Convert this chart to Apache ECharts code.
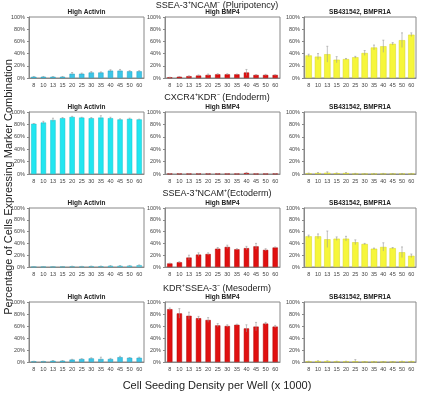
<!DOCTYPE html>
<html><head><meta charset="utf-8">
<script src="https://cdn.jsdelivr.net/npm/echarts@6/dist/echarts.min.js"></script>
<style>html,body{margin:0;padding:0;background:#fff}#c{width:421px;height:395px}</style>
</head><body><div id="c"></div>
<script>
const categories = ['8','10','13','15','20','25','30','35','40','45','50','60'];
const rowTitles = ['SSEA-3\u207ANCAM\u207B (Pluripotency)','CXCR4\u207AKDR\u207B (Endoderm)','SSEA-3\u207ANCAM\u207A(Ectoderm)','KDR\u207ASSEA-3\u207B (Mesoderm)'];
const panelTitles = ['High Activin','High BMP4','SB431542, BMPR1A'];
const yTickValues = [0,20,40,60,80,100];

const pluriActivin = [2,2,2,2,7,7,9,9,12,12,11,11];
const pluriActivinErr = [0.5,0.5,0.3,0.5,2,1,1.5,1,1.5,2,1,1];
const pluriBMP4 = [1,2,3,4,5,6,6,6,9,5,5,5];
const pluriBMP4Err = [0.3,0.5,0.5,1,1.5,1,1,0.5,5,0.5,1,0.5];
const pluriSB = [37,35,39,30,31,34,41,50,52,56,62,71];
const pluriSBErr = [2,5,13,5,1,1.5,4,4,10,2,12,3];

const endoActivin = [81,83,87,90,92,91,90,91,90,88,89,88];
const endoActivinErr = [0.5,2,3,1,1,0.5,1,3,1.5,1,1,0.5];
const endoBMP4 = [0.5,0.5,0.3,0.5,0.5,0.5,0.3,0.3,1.5,0.3,0.3,0.5];
const endoBMP4Err = [0.3,0.3,0.2,0.3,0.3,0.3,0.2,0.2,1,0.2,0.2,0.2];
const endoSB = [1,1.5,2,1.2,1.5,0.5,0.3,0.3,0.6,0.5,0.5,0.6];
const endoSBErr = [0.5,0.8,1.5,0.5,0.8,0.5,0.2,0.2,0.3,0.3,0.3,0.3];

const ectoActivin = [0.2,0.3,0.3,0.5,1,0.8,1.3,1.3,2,2,2.2,3];
const ectoActivinErr = [0.1,0.1,0.1,0.2,0.3,0.3,0.3,0.3,0.4,0.4,0.4,0.5];
const ectoBMP4 = [6,8,16,21,22,31,34,30,32,35,29,33];
const ectoBMP4Err = [0.5,1,4,3,2,2,3,1,3,5,2,1];
const ectoSB = [52,52,47,48,48,42,39,31,34,32,25,19];
const ectoSBErr = [2,4,14,3,4,4,1,1,7,1,9,3];

const mesoActivin = [1,1,2,2,4,5,6,5,5,8,7,7];
const mesoActivinErr = [0.3,0.3,0.5,0.5,0.5,0.5,1,3,1,1.5,0.5,1];
const mesoBMP4 = [88,81,77,73,70,61,60,62,56,59,64,59];
const mesoBMP4Err = [2,8,6,3,4,3,2,1,6,7,2,2];
const mesoSB = [1,1.5,1.5,1,1,1,0.5,0.3,0.5,0.5,1,1];
const mesoSBErr = [0.3,0.5,0.5,0.3,0.3,3,0.2,0.2,0.3,0.3,0.3,0.3];

const panels = [
  [[pluriActivin,pluriActivinErr],[pluriBMP4,pluriBMP4Err],[pluriSB,pluriSBErr]],
  [[endoActivin,endoActivinErr],[endoBMP4,endoBMP4Err],[endoSB,endoSBErr]],
  [[ectoActivin,ectoActivinErr],[ectoBMP4,ectoBMP4Err],[ectoSB,ectoSBErr]],
  [[mesoActivin,mesoActivinErr],[mesoBMP4,mesoBMP4Err],[mesoSB,mesoSBErr]]
];

const colLeft = [29,165,304];
const colWidth = [115,115,112];
const rowTop = [17,112,208,302];
const rowHeight = [61,62,59,60];
const rowTitleY = [6,98,194,289];
const colFill = [['#3cc6e8','#e01010','#f6f63a'],['#22e6f0','#e01010','#f6f63a'],['#55d6e8','#e01010','#f6f63a'],['#3cc6e8','#e01010','#f6f63a']];
const colBorder = ['#1aa0c0','#b00000','#d6d620'];
const rowBorder = ['#1aa0c0','#10c0cc','#30b0c8','#1aa0c0'];

const grid=[],xAxis=[],yAxis=[],series=[],title=[],graphic=[];
let gi=0;
for(let r=0;r<4;r++){
  graphic.push({type:'text',x:217,y:rowTitleY[r],style:{text:rowTitles[r],font:'9px "Liberation Sans", Arial',fill:'#222',align:'center',verticalAlign:'middle'}});
  for(let c=0;c<3;c++){
    grid.push({left:colLeft[c],top:rowTop[r],width:colWidth[c],height:rowHeight[r],show:true,borderColor:'#888',borderWidth:1,backgroundColor:'#fff'});
    title.push({text:panelTitles[c],left:colLeft[c]+colWidth[c]/2,top:rowTop[r]-8,textAlign:'center',padding:0,textStyle:{fontFamily:'Liberation Sans, Arial',fontSize:6.5,fontWeight:'bold',color:'#222'}});
    xAxis.push({type:'category',gridIndex:gi,data:categories,axisLine:{show:true,lineStyle:{color:'#888',width:1}},axisTick:{show:false},axisLabel:{interval:0,fontSize:5.5,margin:4,color:'#444',fontFamily:'Liberation Sans, Arial'}});
    yAxis.push({type:'value',gridIndex:gi,min:0,max:100,interval:20,splitLine:{show:false},axisLine:{show:true,lineStyle:{color:'#888'}},axisTick:{show:true,length:2,lineStyle:{color:'#888'}},axisLabel:{formatter:'{value}%',fontSize:5.5,margin:4,color:'#444',fontFamily:'Liberation Sans, Arial'}});
    const [vals,errs]=panels[r][c];
    series.push({type:'bar',xAxisIndex:gi,yAxisIndex:gi,data:vals,barCategoryGap:c===2?'32%':'45%',itemStyle:{color:colFill[r][c],borderColor:c===0?rowBorder[r]:colBorder[c],borderWidth:0.5},silent:true,animation:false});
    series.push({type:'custom',xAxisIndex:gi,yAxisIndex:gi,data:vals.map((v,i)=>[i,v,errs[i]]),silent:true,animation:false,z:5,
      renderItem:function(params,api){
        const x=api.value(0),y=api.value(1),e=api.value(2);
        const t=api.coord([x,y+e]),b=api.coord([x,Math.max(0,y-e)]);
        const st={stroke:'#999',lineWidth:0.6};
        return {type:'group',children:[
          {type:'line',shape:{x1:t[0],y1:t[1],x2:b[0],y2:b[1]},style:st},
          {type:'line',shape:{x1:t[0]-1,y1:t[1],x2:t[0]+1,y2:t[1]},style:st}
        ]};
      }});
    gi++;
  }
}
graphic.push({type:'text',x:217,y:386,style:{text:'Cell Seeding Density per Well (x 1000)',font:'11px "Liberation Sans", Arial',fill:'#222',align:'center',verticalAlign:'middle'}});
graphic.push({type:'text',x:3,y:187,rotation:Math.PI/2,style:{text:'Percentage of Cells Expressing Marker Combination',font:'11px "Liberation Sans", Arial',fill:'#222',align:'center',verticalAlign:'top'}});

const chart=echarts.init(document.getElementById('c'),null,{renderer:'canvas'});
chart.setOption({animation:false,title,grid,xAxis,yAxis,series,graphic});
</script></body></html>
